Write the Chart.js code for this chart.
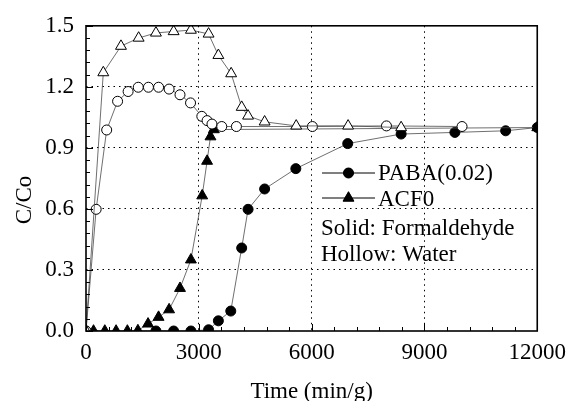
<!DOCTYPE html>
<html>
<head>
<meta charset="utf-8">
<script src="https://cdn.jsdelivr.net/npm/chart.js@4"></script>
<style>
  html, body { margin: 0; padding: 0; background: #fff; }
  #wrap { width: 574px; height: 401px; }
</style>
</head>
<body>
<div id="wrap"><canvas id="chart" width="574" height="401"></canvas></div>
<script>
// valores
const xTicks = [0, 3000, 6000, 9000, 12000];
const yTicks = [0.0, 0.3, 0.6, 0.9, 1.2, 1.5];

// Hollow: Water
const waterACF0X = [0, 460, 930, 1400, 1860, 2330, 2790, 3260, 3520, 3860, 4140, 4310, 4750, 5590, 6970, 8380];
const waterACF0Y = [0, 1.27, 1.40, 1.44, 1.465, 1.472, 1.479, 1.46, 1.355, 1.265, 1.10, 1.057, 1.028, 1.008, 1.008, 1.0];

const waterPABAX = [0, 270, 550, 840, 1120, 1390, 1660, 1930, 2210, 2500, 2780, 3080, 3220, 3350, 3610, 4000, 6020, 7990, 10000];
const waterPABAY = [0, 0.598, 0.988, 1.129, 1.177, 1.198, 1.198, 1.198, 1.189, 1.161, 1.121, 1.055, 1.034, 1.017, 1.005, 1.005, 1.005, 1.008, 1.005];

// Solid: Formaldehyde
const formACF0X = [0, 200, 500, 800, 1100, 1380, 1650, 1930, 2210, 2500, 2790, 3090, 3220, 3310, 3400, 12000];
const formACF0Y = [0, 0.0, 0.0, 0.0, 0.0, 0.002, 0.035, 0.068, 0.105, 0.21, 0.35, 0.665, 0.835, 0.955, 0.99, 1.0];

const formPABAX = [0, 1860, 2330, 2790, 3260, 3520, 3850, 4140, 4310, 4750, 5580, 6960, 8380, 9810, 11160, 12000];
const formPABAY = [0, 0.0, 0.0, 0.0, 0.006, 0.05, 0.098, 0.408, 0.598, 0.698, 0.798, 0.921, 0.968, 0.976, 0.984, 1.0];

const serif = '"Liberation Serif", "Times New Roman", serif';

function pts(xs, ys) {
    return xs.map((x, i) => ({ x: x, y: ys[i] }));
}

function serie(label, xs, ys, shape, filled, radius) {
    return {
        label: label,
        data: pts(xs, ys),
        showLine: true,
        borderColor: '#4a4a4a',
        borderWidth: 0.8,
        pointStyle: shape,
        pointRadius: radius,
        pointBorderColor: '#000',
        pointBorderWidth: 1,
        pointBackgroundColor: filled ? '#000' : '#fff',
        clip: 0
    };
}

// marco, ticks interiores, titulos y leyenda
const adornos = {
    id: 'adornos',
    afterDraw(chart) {
        const ctx = chart.ctx;
        const a = chart.chartArea;
        const xs = chart.scales.x;
        const ys = chart.scales.y;
        ctx.save();
        ctx.strokeStyle = '#000';

        // ticks menores y mayores hacia adentro
        ctx.lineWidth = 1;
        ctx.beginPath();
        for (let v = 0; v <= 12000; v += 600) {
            const px = Math.round(xs.getPixelForValue(v)) + 0.5;
            const len = (v % 3000 === 0) ? 7 : 4;
            ctx.moveTo(px, a.bottom);
            ctx.lineTo(px, a.bottom - len);
        }
        for (let k = 0; k <= 25; k++) {
            const py = Math.round(ys.getPixelForValue(k * 0.06)) + 0.5;
            const len = (k % 5 === 0) ? 7 : 4;
            ctx.moveTo(a.left, py);
            ctx.lineTo(a.left + len, py);
        }
        ctx.stroke();

        // marco
        ctx.lineWidth = 1.6;
        ctx.strokeRect(a.left, a.top, a.right - a.left, a.bottom - a.top);

        // titulos de ejes
        ctx.fillStyle = '#000';
        ctx.font = '23px ' + serif;
        ctx.textAlign = 'center';
        ctx.textBaseline = 'alphabetic';
        ctx.fillText('Time (min/g)', (a.left + a.right) / 2, 398);
        ctx.save();
        ctx.translate(31, 200);
        ctx.rotate(-Math.PI / 2);
        ctx.fillText('C/Co', 0, 0);
        ctx.restore();

        // leyenda
        ctx.font = '23px ' + serif;
        ctx.textAlign = 'left';
        const filas = [
            { y: 173, text: 'PABA(0.02)', shape: 'circle', r: 5, base: 180 },
            { y: 198, text: 'ACF0', shape: 'triangle', r: 6.3, base: 206 }
        ];
        filas.forEach(f => {
            ctx.strokeStyle = '#000';
            ctx.lineWidth = 1;
            ctx.beginPath();
            ctx.moveTo(322, f.y);
            ctx.lineTo(375, f.y);
            ctx.stroke();
            ctx.fillStyle = '#000';
            Chart.helpers.drawPoint(ctx, { pointStyle: f.shape, radius: f.r, borderWidth: 1, rotation: 0 }, 348.5, f.y);
            ctx.fill();
            ctx.fillText(f.text, 378, f.base);
        });
        ctx.fillText('Solid: Formaldehyde', 321, 235);
        ctx.fillText('Hollow: Water', 321, 261);

        ctx.restore();
    }
};

new Chart(document.getElementById('chart'), {
    type: 'scatter',
    data: {
        datasets: [
            serie('ACF0 water', waterACF0X, waterACF0Y, 'triangle', false, 6.3),
            serie('PABA water', waterPABAX, waterPABAY, 'circle', false, 5),
            serie('ACF0', formACF0X, formACF0Y, 'triangle', true, 6.3),
            serie('PABA(0.02)', formPABAX, formPABAY, 'circle', true, 5)
        ]
    },
    options: {
        responsive: false,
        animation: false,
        layout: { padding: { top: 21, right: 31, left: 0, bottom: 0 } },
        plugins: {
            legend: { display: false },
            tooltip: { enabled: false }
        },
        scales: {
            x: {
                type: 'linear',
                min: 0,
                max: 12000,
                afterFit: s => { s.height = 70; },
                afterBuildTicks: s => { s.ticks = xTicks.map(v => ({ value: v })); },
                grid: {
                    drawTicks: false,
                    lineWidth: 1,
                    color: c => (c.tick && c.tick.value > 0 && c.tick.value < 12000) ? '#000' : 'rgba(0,0,0,0)'
                },
                border: { display: false, dash: [1.5, 4] },
                ticks: {
                    color: '#000',
                    padding: 8,
                    maxRotation: 0,
                    font: { family: serif, size: 23 },
                    callback: v => String(v)
                }
            },
            y: {
                type: 'linear',
                min: 0,
                max: 1.5,
                afterFit: s => { s.width = 86; },
                afterBuildTicks: s => { s.ticks = yTicks.map(v => ({ value: v })); },
                grid: {
                    drawTicks: false,
                    lineWidth: 1,
                    color: c => (c.tick && c.tick.value > 0.01 && c.tick.value < 1.49) ? '#000' : 'rgba(0,0,0,0)'
                },
                border: { display: false, dash: [1.5, 4] },
                ticks: {
                    color: '#000',
                    padding: 12,
                    font: { family: serif, size: 23 },
                    callback: v => Number(v).toFixed(1)
                }
            }
        }
    },
    plugins: [adornos]
});
</script>
</body>
</html>
